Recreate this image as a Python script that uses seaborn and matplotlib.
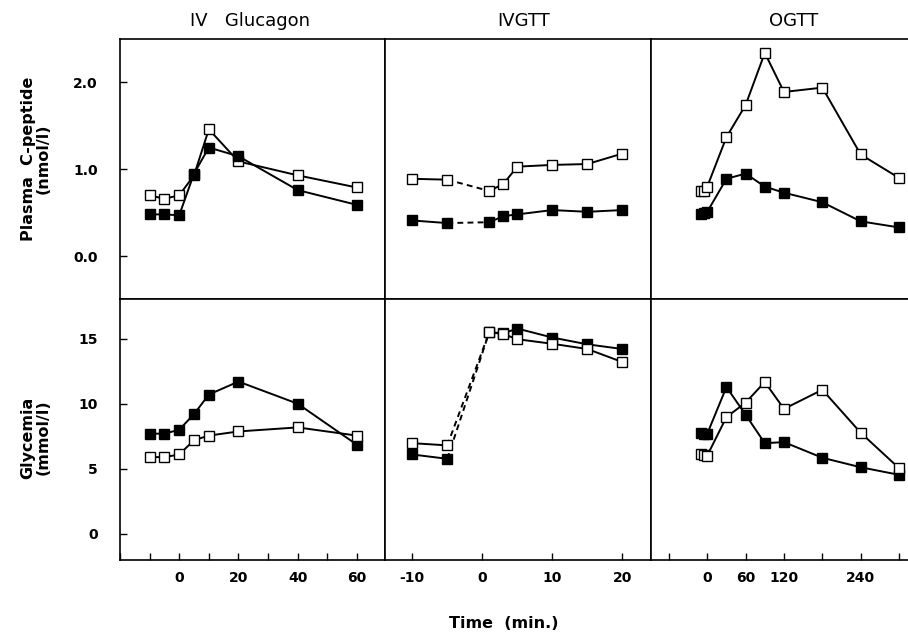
import matplotlib
matplotlib.use('Agg')
import matplotlib.pyplot as plt
import matplotlib.ticker as mtick
import seaborn as sns

# IV glucagon test
glucagon_time = [-10, -5, 0, 5, 10, 20, 40, 60]
glucagon_cpep_open = [0.70, 0.66, 0.70, 0.93, 1.46, 1.09, 0.93, 0.79]
glucagon_cpep_filled = [0.48, 0.48, 0.47, 0.95, 1.25, 1.15, 0.76, 0.59]
glucagon_gly_filled = [7.7, 7.7, 8.0, 9.2, 10.7, 11.7, 10.0, 6.85]
glucagon_gly_open = [5.9, 5.9, 6.1, 7.2, 7.55, 7.87, 8.18, 7.55]

# IVGTT
ivgtt_time = [-10, -5, 1, 3, 5, 10, 15, 20]
ivgtt_cpep_open = [0.89, 0.88, 0.75, 0.83, 1.03, 1.05, 1.06, 1.18]
ivgtt_cpep_filled = [0.41, 0.38, 0.39, 0.46, 0.48, 0.53, 0.51, 0.53]
ivgtt_gly_open = [6.97, 6.8, 15.5, 15.35, 14.95, 14.6, 14.2, 13.2]
ivgtt_gly_filled = [6.1, 5.77, 15.5, 15.4, 15.77, 15.08, 14.56, 14.2]

# OGTT
ogtt_time = [-10, -5, 0, 30, 60, 90, 120, 180, 240, 300]
ogtt_cpep_open = [0.755, 0.75, 0.80, 1.37, 1.74, 2.34, 1.89, 1.94, 1.17, 0.90]
ogtt_cpep_filled = [0.48, 0.50, 0.51, 0.89, 0.95, 0.80, 0.73, 0.62, 0.40, 0.33]
ogtt_gly_open = [6.1, 6.05, 6.02, 8.97, 10.08, 11.67, 9.6, 11.07, 7.77, 5.05]
ogtt_gly_filled = [7.77, 7.7, 7.69, 11.28, 9.15, 6.97, 7.05, 5.85, 5.12, 4.54]

titles = ['IV   Glucagon', 'IVGTT', 'OGTT']
ylabels = ['Plasma  C-peptide\n(nmol/l)', 'Glycemia\n(mmol/l)']
cpep_ticks = [0.0, 1.0, 2.0]
gly_ticks = [0, 5, 10, 15]
x_ticks = [list(range(-20, 61, 10)), [-10, 0, 10, 20], [-60, 0, 60, 120, 180, 240, 300]]
x_labelled = [[0, 20, 40, 60], [-10, 0, 10, 20], [0, 60, 120, 240]]

sns.set_style('ticks')
plt.rcParams['font.family'] = ['DejaVu Sans']
plt.rcParams['text.color'] = 'black'
plt.rcParams['axes.labelcolor'] = 'black'


def plot_series(ax, x, y, filled, break_after=None):
    face = 'black' if filled else 'white'
    style = dict(color='black', lw=1.4, marker='s', ms=6.5, mfc=face,
                 mec='black', mew=1.0, sort=False, estimator=None, ax=ax)
    if break_after is None:
        sns.lineplot(x=x, y=y, **style)
        return
    i = break_after
    # dashed link across the injection gap
    sns.lineplot(x=x[i:i + 2], y=y[i:i + 2], color='black', lw=1.4,
                 ls=(0, (3, 2.2)), sort=False, estimator=None, ax=ax)
    sns.lineplot(x=x[:i + 1], y=y[:i + 1], **style)
    sns.lineplot(x=x[i + 1:], y=y[i + 1:], **style)


fig = plt.figure(figsize=(9.08, 6.35), dpi=100)
gs = fig.add_gridspec(2, 3, left=120 / 908, right=1.0,
                      bottom=75 / 635, top=1 - 39 / 635,
                      width_ratios=[265, 266, 257], wspace=0, hspace=0)
axes = [[fig.add_subplot(gs[r, c]) for c in range(3)] for r in range(2)]

top = axes[0]
bottom = axes[1]

plot_series(top[0], glucagon_time, glucagon_cpep_open, False)
plot_series(top[0], glucagon_time, glucagon_cpep_filled, True)
plot_series(bottom[0], glucagon_time, glucagon_gly_filled, True)
plot_series(bottom[0], glucagon_time, glucagon_gly_open, False)

plot_series(top[1], ivgtt_time, ivgtt_cpep_open, False, break_after=1)
plot_series(top[1], ivgtt_time, ivgtt_cpep_filled, True, break_after=1)
plot_series(bottom[1], ivgtt_time, ivgtt_gly_filled, True, break_after=1)
plot_series(bottom[1], ivgtt_time, ivgtt_gly_open, False, break_after=1)

plot_series(top[2], ogtt_time, ogtt_cpep_open, False)
plot_series(top[2], ogtt_time, ogtt_cpep_filled, True)
plot_series(bottom[2], ogtt_time, ogtt_gly_filled, True)
plot_series(bottom[2], ogtt_time, ogtt_gly_open, False)

xlims = [(-20, 69.5), (-13.9, 24.1), (-88, 314)]
title_x = [0.49, 0.52, 0.556]

for c in range(3):
    for r in range(2):
        ax = axes[r][c]
        ax.set_xlim(*xlims[c])
        ax.set_xlabel('')
        ax.set_ylabel('')
        for s in ax.spines.values():
            s.set_linewidth(1.2)
            s.set_color('black')
        ax.tick_params(direction='in', length=5, width=1.0, colors='black',
                       labelsize=10)
    top[c].set_ylim(-0.5, 2.5)
    bottom[c].set_ylim(-2, 18)
    top[c].tick_params(bottom=False, labelbottom=False)
    if c > 0:
        top[c].tick_params(left=False, labelleft=False)
        bottom[c].tick_params(left=False, labelleft=False)
    top[c].set_title(titles[c], fontsize=13, pad=9, x=title_x[c], color='black')

    lab_set = x_labelled[c]
    bottom[c].xaxis.set_major_locator(mtick.FixedLocator(x_ticks[c]))
    bottom[c].xaxis.set_major_formatter(
        mtick.FuncFormatter(lambda v, p, ls=lab_set: f'{int(round(v))}' if int(round(v)) in ls else ''))
    bottom[c].tick_params(axis='x', pad=8)

top[2].spines['right'].set_visible(False)
bottom[2].spines['right'].set_visible(False)

top[0].yaxis.set_major_locator(mtick.FixedLocator(cpep_ticks))
top[0].yaxis.set_major_formatter(mtick.FormatStrFormatter('%.1f'))
bottom[0].yaxis.set_major_locator(mtick.FixedLocator(gly_ticks))
top[0].tick_params(axis='y', pad=16)
bottom[0].tick_params(axis='y', pad=16)

for ax in [top[0], bottom[0]] + bottom:
    for lab in ax.get_xticklabels() + ax.get_yticklabels():
        lab.set_fontweight('bold')

top[0].set_ylabel(ylabels[0], fontsize=11.5, fontweight='bold', linespacing=1.0)
top[0].yaxis.set_label_coords(-0.262, 0.54)
bottom[0].set_ylabel(ylabels[1], fontsize=11.5, fontweight='bold', linespacing=1.0)
bottom[0].yaxis.set_label_coords(-0.262, 0.47)

fig.text(504 / 908, 1 - 623 / 635, 'Time  (min.)', ha='center', va='center',
         fontsize=11.5, fontweight='bold')

fig.savefig('out.png', dpi=100)
